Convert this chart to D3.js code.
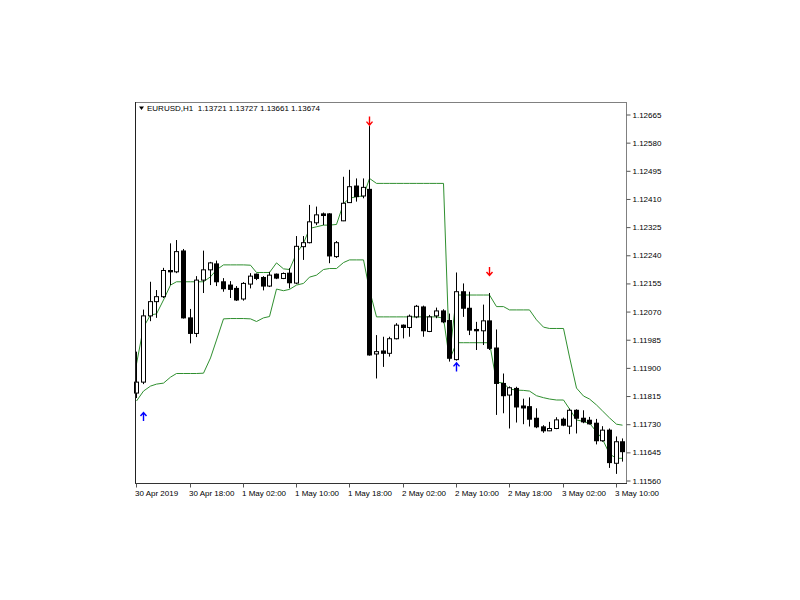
<!DOCTYPE html>
<html><head><meta charset="utf-8">
<script src="https://cdn.jsdelivr.net/npm/d3@7"></script>
<style>body{margin:0;background:#fff;} svg{display:block;}</style>
</head><body>
<svg id="chart" width="800" height="600"></svg>
<script>
const title = "EURUSD,H1  1.13721 1.13727 1.13661 1.13674";
const opens = [1.11824,1.11857,1.12057,1.12100,1.12115,1.12194,1.12190,1.12253,1.12051,1.12004,
1.12165,1.12196,1.12214,1.12160,1.12150,1.12140,1.12108,1.12153,1.12183,1.12173,
1.12147,1.12183,1.12170,1.12186,1.12156,1.12266,1.12278,1.12338,1.12365,1.12365,
1.12236,1.12344,1.12399,1.12449,1.12419,1.12439,1.11942,1.11951,1.11944,1.11988,
1.12029,1.12022,1.12054,1.12084,1.12010,1.12057,1.12072,1.12043,1.11925,1.12130,
1.12080,1.12016,1.12012,1.12042,1.11960,1.11853,1.11818,1.11838,1.11785,1.11783,
1.11748,1.11722,1.11710,1.11717,1.11745,1.11724,1.11772,1.11748,1.11742,1.11733,
1.11680,1.11712,1.11612,1.11677];
const highs = [1.11949,1.12076,1.12160,1.12135,1.12202,1.12276,1.12286,1.12259,1.12078,1.12177,
1.12254,1.12220,1.12224,1.12171,1.12162,1.12147,1.12159,1.12186,1.12185,1.12177,
1.12190,1.12185,1.12188,1.12201,1.12298,1.12298,1.12392,1.12387,1.12369,1.12367,
1.12283,1.12477,1.12498,1.12472,1.12472,1.12630,1.11999,1.11994,1.11994,1.12035,
1.12031,1.12061,1.12090,1.12088,1.12060,1.12082,1.12077,1.12064,1.12188,1.12155,
1.12130,1.12039,1.12091,1.12126,1.12016,1.11883,1.11844,1.11843,1.11807,1.11811,
1.11778,1.11727,1.11737,1.11751,1.11750,1.11777,1.11775,1.11772,1.11752,1.11746,
1.11724,1.11717,1.11693,1.11687];
const lows = [1.11809,1.11851,1.12041,1.12051,1.12111,1.12150,1.12186,1.12049,1.11974,1.11993,
1.12126,1.12150,1.12147,1.12130,1.12111,1.12102,1.12103,1.12140,1.12165,1.12134,
1.12144,1.12168,1.12168,1.12140,1.12153,1.12226,1.12276,1.12331,1.12331,1.12216,
1.12232,1.12343,1.12398,1.12402,1.12412,1.11937,1.11868,1.11903,1.11934,1.11986,
1.11989,1.11994,1.12050,1.11994,1.12008,1.12050,1.12035,1.11919,1.11922,1.12054,
1.11999,1.11954,1.11969,1.11954,1.11758,1.11763,1.11717,1.11735,1.11730,1.11723,
1.11718,1.11704,1.11709,1.11715,1.11724,1.11700,1.11702,1.11733,1.11729,1.11669,
1.11677,1.11598,1.11580,1.11617];
const closes = [1.11857,1.12057,1.12100,1.12115,1.12194,1.12190,1.12251,1.12051,1.12004,1.12165,
1.12196,1.12217,1.12160,1.12139,1.12137,1.12105,1.12155,1.12177,1.12170,1.12147,
1.12180,1.12171,1.12185,1.12157,1.12267,1.12278,1.12341,1.12362,1.12360,1.12238,
1.12278,1.12397,1.12447,1.12417,1.12445,1.11939,1.11949,1.11944,1.11988,1.12029,
1.12022,1.12056,1.12086,1.12012,1.12054,1.12072,1.12039,1.11929,1.12130,1.12080,
1.12014,1.12012,1.12042,1.11959,1.11853,1.11816,1.11840,1.11782,1.11779,1.11745,
1.11722,1.11710,1.11717,1.11743,1.11727,1.11772,1.11748,1.11737,1.11731,1.11680,
1.11712,1.11614,1.11677,1.11647];
const upperBand = [1.11912,1.12023,1.12060,1.12063,1.12105,1.12150,1.12160,1.12160,1.12160,1.12160,
1.12160,1.12175,1.12196,1.12211,1.12211,1.12211,1.12211,1.12210,1.12188,1.12188,
1.12188,1.12217,1.12199,1.12197,1.12246,1.12276,1.12321,1.12326,1.12331,1.12331,
1.12333,1.12396,1.12412,1.12417,1.12419,1.12472,1.12457,1.12457,1.12457,1.12457,
1.12457,1.12457,1.12457,1.12457,1.12457,1.12457,1.12457,1.11934,1.12120,1.12120,
1.12120,1.12120,1.12120,1.12120,1.12085,1.12085,1.12075,1.12075,1.12075,1.12075,
1.12045,1.12023,1.12019,1.12019,1.12019,1.11933,1.11839,1.11815,1.11806,1.11788,
1.11770,1.11749,1.11730,1.11727];
const lowerBand = [1.11800,1.11830,1.11845,1.11851,1.11854,1.11872,1.11883,1.11883,1.11883,1.11883,
1.11884,1.11930,1.11984,1.12048,1.12049,1.12049,1.12049,1.12048,1.12040,1.12051,
1.12055,1.12138,1.12133,1.12137,1.12150,1.12155,1.12174,1.12180,1.12197,1.12200,
1.12200,1.12218,1.12226,1.12226,1.12226,1.12135,1.12054,1.12054,1.12054,1.12054,
1.12054,1.12054,1.12054,1.12054,1.12054,1.12054,1.12050,1.11924,1.11976,1.11976,
1.11976,1.11976,1.11976,1.11976,1.11857,1.11854,1.11836,1.11833,1.11832,1.11830,
1.11816,1.11810,1.11806,1.11803,1.11803,1.11776,1.11743,1.11738,1.11733,1.11707,
1.11685,1.11640,1.11627,1.11627];
const yTickValues = [1.11560,1.11645,1.11730,1.11815,1.11900,1.11985,1.12070,1.12155,1.12240,1.12325,1.12410,1.12495,1.12580,1.12665];
const xTickBars = [0,8,16,24,32,40,48,56,64,72];
const xTickLabels = ["30 Apr 2019","30 Apr 18:00","1 May 02:00","1 May 10:00","1 May 18:00","2 May 02:00","2 May 10:00","2 May 18:00","3 May 02:00","3 May 10:00"];
const buyBars = [1,48];
const buyPrices = [1.11753,1.11903];
const sellBars = [35,53];
const sellPrices = [1.12645,1.12191];

const svg = d3.select("#chart");
const L = 135, R = 626, T = 102, B = 483;
const n = opens.length;
const x = d3.scaleLinear().domain([-0.195, 73.53]).range([L, R]);
const y = d3.scaleLinear().domain([1.11560, 1.12665]).range([480.5, 114.5]);
const font = "'Liberation Sans', Arial, sans-serif";

svg.append("rect").attr("width",800).attr("height",600).attr("fill","#fff");

// bands
const lineGen = d3.line().x((d,i)=>Math.round(x(i))+0.5).y(d=>y(d));
svg.append("path").datum(upperBand).attr("d",lineGen).attr("fill","none").attr("stroke","#2f8f2f").attr("stroke-width",1);
svg.append("path").datum(lowerBand).attr("d",lineGen).attr("fill","none").attr("stroke","#2f8f2f").attr("stroke-width",1);

// candles
const idx = d3.range(n);
const g = svg.append("g");
g.selectAll("line.wick").data(idx).join("line")
  .attr("x1",i=>Math.round(x(i))+0.5).attr("x2",i=>Math.round(x(i))+0.5)
  .attr("y1",i=>y(highs[i])).attr("y2",i=>y(lows[i]))
  .attr("stroke","#000").attr("stroke-width",1);
g.selectAll("rect.body").data(idx).join("rect")
  .attr("x",i=> closes[i]>=opens[i] ? Math.round(x(i))-1.5 : Math.round(x(i))-2)
  .attr("width",i=> closes[i]>=opens[i] ? 4 : 5)
  .attr("y",i=>{const top=y(Math.max(opens[i],closes[i])); return closes[i]>=opens[i]? top : top-0.5;})
  .attr("height",i=>{const h=Math.abs(y(opens[i])-y(closes[i])); return closes[i]>=opens[i]? Math.max(h,1) : Math.max(h+1,1.5);})
  .attr("fill",i=> closes[i]>=opens[i] ? "#fff" : "#000")
  .attr("stroke",i=> closes[i]>=opens[i] ? "#000" : "none")
  .attr("stroke-width",1);

// arrows
function arrow(cx, cy, up, color){
  const d = up
    ? `M${cx},${cy+4.5}L${cx},${cy-4}M${cx-3},${cy-0.5}L${cx},${cy-4}L${cx+3},${cy-0.5}`
    : `M${cx},${cy-4.5}L${cx},${cy+4}M${cx-3},${cy+0.5}L${cx},${cy+4}L${cx+3},${cy+0.5}`;
  svg.append("path").attr("d",d).attr("fill","none").attr("stroke",color).attr("stroke-width",1.4);
}
buyBars.forEach((b,k)=>arrow(Math.round(x(b))+0.5, y(buyPrices[k]), true, "#0000ff"));
sellBars.forEach((b,k)=>arrow(Math.round(x(b))+0.5, y(sellPrices[k]), false, "#ff0000"));

// frame
svg.append("line").attr("x1",L).attr("x2",R).attr("y1",T+0.5).attr("y2",T+0.5).attr("stroke","#808080");
svg.append("line").attr("x1",R+0.5).attr("x2",R+0.5).attr("y1",T).attr("y2",B+1).attr("stroke","#808080");
svg.append("line").attr("x1",L+0.5).attr("x2",L+0.5).attr("y1",T).attr("y2",B+1).attr("stroke","#222");
svg.append("line").attr("x1",L).attr("x2",R+1).attr("y1",B+0.5).attr("y2",B+0.5).attr("stroke","#333");

// y axis
const yAxis = d3.axisRight(y).tickValues(yTickValues).tickFormat(d3.format(".5f")).tickSize(4).tickPadding(2);
const ya = svg.append("g").attr("transform",`translate(${R+0.5},0)`).call(yAxis);
ya.select(".domain").remove();
ya.selectAll("text").attr("font-family",font).attr("font-size","8px").attr("fill","#000");
ya.selectAll("line").attr("stroke","#555");

// x axis
const xAxis = d3.axisBottom(x).tickValues(xTickBars).tickFormat((d,i)=>xTickLabels[i]).tickSize(4).tickPadding(3);
const xa = svg.append("g").attr("transform",`translate(0,${B+0.5})`).call(xAxis);
xa.select(".domain").remove();
xa.selectAll(".tick").attr("transform",d=>`translate(${Math.round(x(d))+0.5},0)`);
xa.selectAll("text").attr("font-family",font).attr("font-size","8px").attr("fill","#000").attr("text-anchor","start").attr("dx","-1.5");
xa.selectAll("line").attr("stroke","#555");

// title
svg.append("path").attr("d","M139,106.5L144,106.5L141.5,110Z").attr("fill","#000");
svg.append("text").attr("x",147).attr("y",111).attr("font-family",font).attr("font-size","8px").attr("fill","#000")
  .style("white-space","pre").attr("xml:space","preserve").text(title);
</script>
</body></html>
